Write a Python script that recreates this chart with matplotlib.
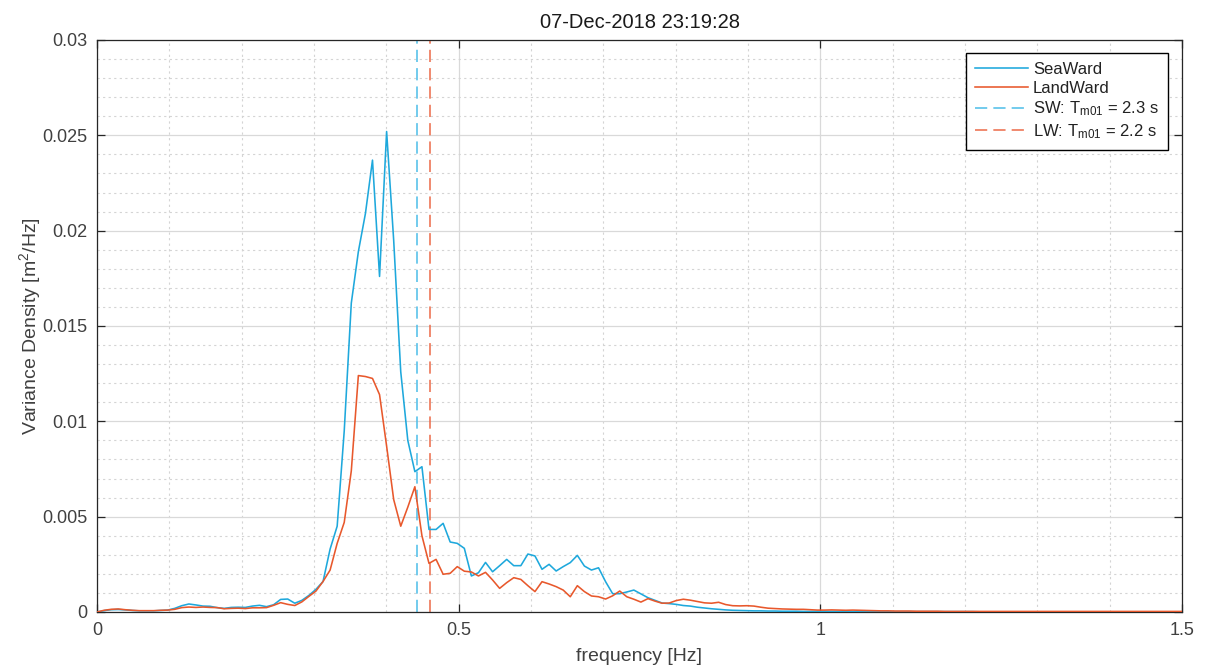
import numpy as np
import matplotlib
matplotlib.use("Agg")
import matplotlib.pyplot as plt

plt.rcParams['font.family'] = ['Liberation Sans', 'DejaVu Sans']
plt.rcParams['mathtext.default'] = 'regular'

# Spectral resolution of the variance density spectra [Hz]
df = 10 / 1024

# Variance density, units of 1e-3 m^2/Hz
seaward_e3 = [
    0.00, 0.07, 0.12, 0.13, 0.11, 0.08, 0.06, 0.06, 0.06, 0.08,
    0.10, 0.19, 0.33, 0.42, 0.37, 0.31, 0.30, 0.23, 0.19, 0.24,
    0.25, 0.24, 0.31, 0.35, 0.28, 0.38, 0.66, 0.68, 0.46, 0.61,
    0.87, 1.19, 1.60, 3.30, 4.50, 9.50, 16.2, 18.9, 20.9, 23.7,
    17.6, 25.2, 19.5, 12.6, 9.00, 7.36, 7.62, 4.33, 4.33, 4.65,
    3.67, 3.60, 3.34, 1.89, 2.06, 2.60, 2.11, 2.43, 2.76, 2.43,
    2.43, 3.04, 2.94, 2.24, 2.50, 2.15, 2.38, 2.59, 2.97, 2.41,
    2.20, 2.32, 1.59, 0.96, 0.96, 1.05, 1.15, 0.95, 0.75, 0.61,
    0.47, 0.44, 0.40, 0.34, 0.31, 0.25, 0.21, 0.17, 0.14, 0.11,
    0.09, 0.08, 0.07, 0.06, 0.06, 0.05, 0.05, 0.04, 0.04, 0.04,
    0.03, 0.03, 0.03, 0.03, 0.03, 0.02, 0.02, 0.02, 0.02, 0.02,
    0.02, 0.02, 0.02, 0.02, 0.02, 0.02, 0.02, 0.02, 0.02, 0.02,
    0.02, 0.02, 0.02, 0.02, 0.02, 0.01, 0.01, 0.01, 0.01, 0.01,
    0.01, 0.01, 0.01, 0.01, 0.01, 0.01, 0.01, 0.01, 0.01, 0.01,
    0.01, 0.01, 0.01, 0.01, 0.01, 0.01, 0.01, 0.01, 0.01, 0.01,
    0.01, 0.01, 0.01, 0.01, 0.01,
]

landward_e3 = [
    0.00, 0.09, 0.14, 0.16, 0.12, 0.09, 0.07, 0.07, 0.07, 0.09,
    0.10, 0.14, 0.23, 0.26, 0.24, 0.26, 0.24, 0.23, 0.17, 0.19,
    0.20, 0.18, 0.22, 0.22, 0.23, 0.35, 0.49, 0.40, 0.34, 0.53,
    0.82, 1.10, 1.60, 2.20, 3.60, 4.70, 7.40, 12.40, 12.35, 12.25,
    11.40, 8.70, 5.90, 4.50, 5.50, 6.57, 4.00, 2.55, 2.76, 1.98,
    2.03, 2.38, 2.14, 2.10, 1.89, 2.08, 1.68, 1.24, 1.54, 1.80,
    1.71, 1.38, 1.07, 1.59, 1.47, 1.33, 1.15, 0.80, 1.38, 1.07,
    0.84, 0.80, 0.68, 0.85, 1.10, 0.80, 0.67, 0.52, 0.70, 0.57,
    0.46, 0.47, 0.60, 0.67, 0.62, 0.55, 0.48, 0.46, 0.51, 0.39,
    0.33, 0.32, 0.33, 0.31, 0.25, 0.20, 0.18, 0.16, 0.15, 0.14,
    0.14, 0.12, 0.10, 0.10, 0.11, 0.10, 0.09, 0.10, 0.09, 0.08,
    0.07, 0.06, 0.06, 0.05, 0.05, 0.05, 0.04, 0.04, 0.04, 0.04,
    0.03, 0.03, 0.03, 0.03, 0.03, 0.03, 0.03, 0.03, 0.03, 0.03,
    0.03, 0.03, 0.03, 0.03, 0.03, 0.03, 0.03, 0.03, 0.03, 0.03,
    0.03, 0.03, 0.03, 0.03, 0.03, 0.03, 0.03, 0.03, 0.03, 0.03,
    0.03, 0.03, 0.03, 0.03, 0.03,
]

# Mean wave periods T_m01 [s]
tm01_sw = 2.26
tm01_lw = 2.17

title_text = "07-Dec-2018 23:19:28"
x_ticks = [0, 0.5, 1, 1.5]
x_ticklabels = ["0", "0.5", "1", "1.5"]
y_ticks = [0, 0.005, 0.01, 0.015, 0.02, 0.025, 0.03]
y_ticklabels = ["0", "0.005", "0.01", "0.015", "0.02", "0.025", "0.03"]

seaward = np.array(seaward_e3) * 1e-3
landward = np.array(landward_e3) * 1e-3
freq = np.arange(len(seaward)) * df

c_sw = "#1ea8dc"
c_lw = "#e8582c"
c_sw_dash = "#4cbde8"
c_lw_dash = "#ec6a48"
txt = "#404040"
ax_col = "#262626"

fig = plt.figure(figsize=(12.06, 6.68), dpi=100)
ax = fig.add_axes([97 / 1206, 1 - 612 / 668, (1182 - 97) / 1206, (612 - 40) / 668])

ax.plot(freq, seaward, color=c_sw, lw=1.15, label="SeaWard", zorder=3)
ax.plot(freq, landward, color=c_lw, lw=1.15, label="LandWard", zorder=3)
ax.axvline(1 / tm01_sw, color=c_sw_dash, lw=1.1, ls=(0, (8, 4)),
           label=rf"SW: T$_{{m01}}$ = {tm01_sw:.1f} s", zorder=2)
ax.axvline(1 / tm01_lw, color=c_lw_dash, lw=1.1, ls=(0, (8, 4)),
           label=rf"LW: T$_{{m01}}$ = {tm01_lw:.1f} s", zorder=2)

ax.set_xlim(0, 1.5)
ax.set_ylim(0, 0.03)
ax.set_xticks(x_ticks)
ax.set_xticklabels(x_ticklabels)
ax.set_yticks(y_ticks)
ax.set_yticklabels(y_ticklabels)
ax.set_xticks(np.arange(0, 1.5001, 0.1), minor=True)
ax.set_yticks(np.arange(0, 0.03001, 0.001), minor=True)

ax.grid(True, which="major", color="#d9d9d9", lw=0.9, ls="-", zorder=0)
ax.grid(True, which="minor", color="#d4d4d4", lw=0.8, ls=(0, (2, 3)), zorder=0)
ax.set_axisbelow(True)

ax.tick_params(which="major", direction="in", length=6, width=0.9,
               color=ax_col, top=True, right=True, labelsize=13,
               labelcolor=txt, pad=7)
ax.tick_params(which="minor", length=0)
for s in ax.spines.values():
    s.set_color(ax_col)
    s.set_linewidth(0.9)

ax.set_xlabel("frequency [Hz]", fontsize=14, color=txt, labelpad=7)
ax.set_ylabel("Variance Density [m$^2$/Hz]", fontsize=14, color=txt, labelpad=-1)
ax.set_title(title_text, fontsize=14.5, color="#1a1a1a", pad=9)

leg = ax.legend(loc="upper right", bbox_to_anchor=((1168 - 97) / 1085, (612 - 53) / 572),
                borderaxespad=0, fontsize=12, frameon=True, fancybox=False,
                edgecolor="black", framealpha=1, handlelength=3.2,
                handletextpad=0.3, labelspacing=0.22, borderpad=0.55)
leg.get_frame().set_linewidth(1.0)
for t in leg.get_texts():
    t.set_color("#222222")

fig.savefig("out.png", dpi=100, facecolor="white")
